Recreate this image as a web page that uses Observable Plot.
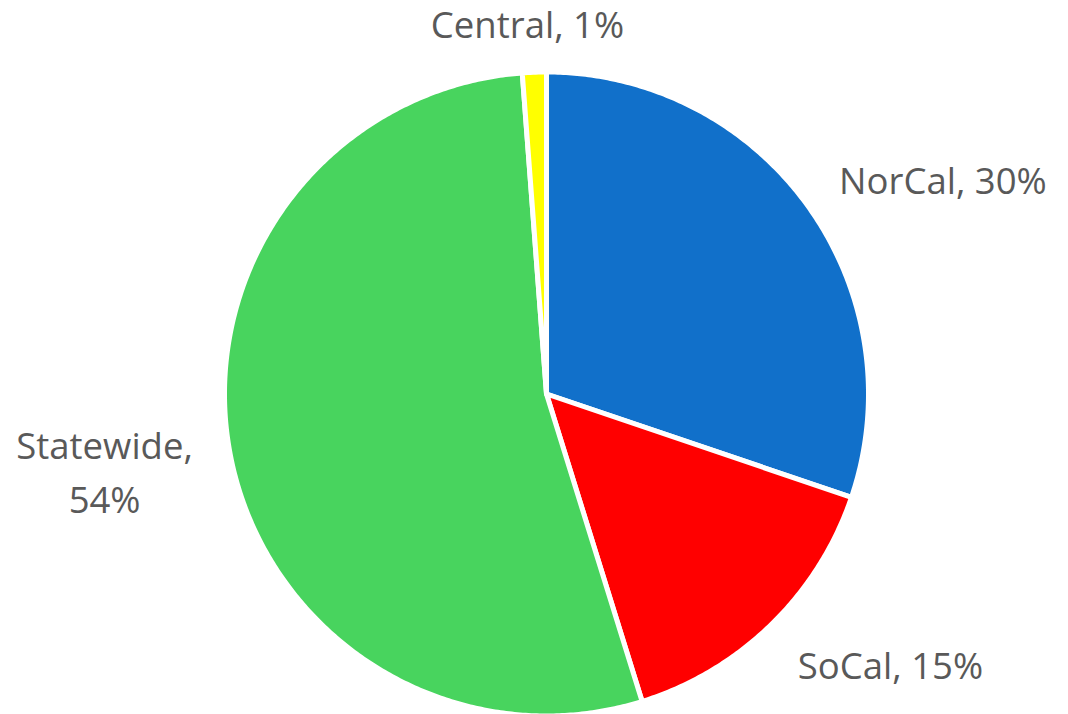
<!DOCTYPE html>
<html>
<head>
<meta charset="utf-8">
<script src="https://cdn.jsdelivr.net/npm/d3@7"></script>
<script src="https://cdn.jsdelivr.net/npm/@observablehq/plot@0.6"></script>
<style>
  html, body { margin: 0; padding: 0; background: #ffffff; }
  #chart { width: 1068px; height: 714px; overflow: hidden; }
</style>
</head>
<body>
<div id="chart"></div>
<script>
// ---- data ----
const categories = ["NorCal", "SoCal", "Statewide", "Central"];
const shares = [30.2, 15.0, 53.6, 1.2];
const colors = ["#1170CA", "#FF0000", "#48D45E", "#FFFF00"];

// ---- layout ----
const W = 1068, H = 714;
const cx = 546, cy = 393.5, R = 322;
const FONT = "'Open Sans', 'Noto Sans', sans-serif";
const FS = 36.5, LH = 1.48, PAD = 38;

const data = categories.map((name, i) => ({name, share: shares[i]}));
const total = d3.sum(shares);
const arcs = d3.pie().sort(null).value(d => d.share)(data);

// polygon points for each slice, in data units centred on the pie
const pts = [];
for (const a of arcs) {
  const n = Math.max(2, Math.ceil((a.endAngle - a.startAngle) / (Math.PI / 360)));
  pts.push({name: a.data.name, x: 0, y: 0});
  for (let i = 0; i <= n; i++) {
    const t = a.startAngle + (a.endAngle - a.startAngle) * i / n;
    pts.push({name: a.data.name, x: R * Math.sin(t), y: R * Math.cos(t)});
  }
  pts.push({name: a.data.name, x: 0, y: 0});
}

// label placement
const ctx = document.createElement("canvas").getContext("2d");
ctx.font = `${FS}px ${FONT}`;
const measure = s => ctx.measureText(s).width;
const labels = arcs.map(a => {
  const mid = (a.startAngle + a.endAngle) / 2;
  const s = Math.sin(mid), c = Math.cos(mid);
  const px = (R + PAD) * s, py = (R + PAD) * c;
  const pct = Math.round(a.data.share / total * 100);
  let lines = [`${a.data.name}, ${pct}%`];
  let w = measure(lines[0]);
  const kx = Math.max(-1, Math.min(1, 1.5 * s));
  let x = px + kx * w / 2;
  if (cx + x - w / 2 < 0 || cx + x + w / 2 > W) {
    lines = [`${a.data.name},`, `${pct}%`];
    w = d3.max(lines, measure);
    x = px + kx * w / 2;
  }
  const h = (lines.length - 1) * LH * FS + 0.75 * FS;
  const y = py + c * h / 2;
  return {x, y, text: lines.join("\n")};
});

const plot = Plot.plot({
  width: W,
  height: H,
  margin: 0,
  x: {domain: [-cx, W - cx], axis: null},
  y: {domain: [-(H - cy), cy], axis: null},
  color: {domain: categories, range: colors},
  style: {background: "#ffffff", fontFamily: FONT},
  marks: [
    Plot.line(pts, {x: "x", y: "y", z: "name", fill: "name", stroke: "#ffffff", strokeWidth: 5, strokeLinejoin: "round"}),
    Plot.text(labels, {x: "x", y: "y", text: "text", fill: "#595959", fontSize: FS, fontFamily: FONT,
      textAnchor: "middle", lineAnchor: "middle", lineHeight: LH})
  ]
});
document.getElementById("chart").appendChild(plot);
</script>
</body>
</html>
